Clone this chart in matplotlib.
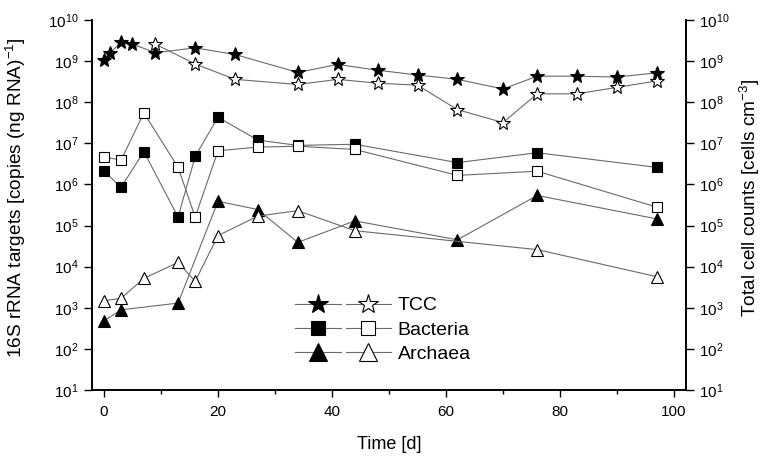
import matplotlib
matplotlib.use("Agg")
import matplotlib.pyplot as plt
from matplotlib.legend_handler import HandlerTuple
from matplotlib.ticker import LogLocator, LogFormatterMathtext, MultipleLocator, NullLocator

plt.rcParams['font.family'] = ['Liberation Sans', 'DejaVu Sans']
plt.rcParams['mathtext.fontset'] = 'custom'
plt.rcParams['mathtext.rm'] = 'Liberation Sans'
plt.rcParams['mathtext.default'] = 'regular'

# total cell counts (right axis), filled / open
tcc_t = [0, 1, 3, 5, 9, 16, 23, 34, 41, 48, 55, 62, 70, 76, 83, 90, 97]
tcc = [1.06e9, 1.55e9, 2.86e9, 2.6e9, 1.6e9, 2.1e9, 1.45e9, 5.3e8, 8.3e8,
       6.0e8, 4.6e8, 3.6e8, 2.1e8, 4.3e8, 4.3e8, 4.1e8, 5.2e8]
tcc_open_t = [9, 16, 23, 34, 41, 48, 55, 62, 70, 76, 83, 90, 97]
tcc_open = [2.6e9, 8.5e8, 3.6e8, 2.7e8, 3.6e8, 2.9e8, 2.6e8, 6.6e7, 3.2e7,
            1.6e8, 1.6e8, 2.3e8, 3.3e8]

# 16S rRNA targets (left axis)
bac_t = [0, 3, 7, 13, 16, 20, 27, 34, 44, 62, 76, 97]
bac = [2.1e6, 8.5e5, 6.3e6, 1.6e5, 4.8e6, 4.3e7, 1.2e7, 8.9e6, 9.5e6, 3.4e6, 5.9e6, 2.6e6]
bac_open_t = [0, 3, 7, 13, 16, 20, 27, 34, 44, 62, 76, 97]
bac_open = [4.7e6, 3.9e6, 5.5e7, 2.6e6, 1.6e5, 6.6e6, 8.1e6, 8.5e6, 7.1e6, 1.66e6, 2.1e6, 2.8e5]

arc_t = [0, 3, 13, 20, 27, 34, 44, 62, 76, 97]
arc = [480, 890, 1.3e3, 3.9e5, 2.45e5, 3.9e4, 1.3e5, 4.5e4, 5.4e5, 1.45e5]
arc_open_t = [0, 3, 7, 13, 16, 20, 27, 34, 44, 76, 97]
arc_open = [1.48e3, 1.7e3, 5.2e3, 1.27e4, 4.4e3, 5.7e4, 1.7e5, 2.3e5, 7.5e4, 2.6e4, 5.7e3]

line_c = '#6a6a6a'
ms = {'*': 10, 's': 7, '^': 8.5}


def series(ax, t, v, marker, filled):
	"""one line with black or white markers"""
	return ax.plot(t, v, color=line_c, lw=0.8, marker=marker, ms=ms[marker],
	               mfc='k' if filled else 'w', mec='k', mew=0.8, zorder=3)[0]


fig = plt.figure(figsize=(7.64, 4.57), dpi=100)
ax = fig.add_axes([92/764, 1-390/457, 594/764, 370/457])
ax2 = ax.twinx()

for a in (ax, ax2):
	a.set_yscale('log')
	a.set_ylim(10, 1e10)
	a.yaxis.set_major_locator(LogLocator(base=10, numticks=12))
	a.yaxis.set_minor_locator(NullLocator())
	a.yaxis.set_major_formatter(LogFormatterMathtext())
	a.spines['top'].set_visible(False)
	a.tick_params(axis='y', direction='out', length=6, width=1, labelsize=11)
	for s in a.spines.values():
		s.set_linewidth(1.2)

ax.set_xlim(-2.1, 102.1)
ax.xaxis.set_major_locator(MultipleLocator(20))
ax.xaxis.set_minor_locator(MultipleLocator(10))
ax.tick_params(axis='x', which='major', direction='out', length=5, width=1, labelsize=11, pad=6)
ax.tick_params(axis='x', which='minor', direction='out', length=3, width=1)

# rRNA targets on left axis, cell counts on right
h_bac = series(ax, bac_t, bac, 's', True)
h_bac_o = series(ax, bac_open_t, bac_open, 's', False)
h_arc = series(ax, arc_t, arc, '^', True)
h_arc_o = series(ax, arc_open_t, arc_open, '^', False)
h_tcc = series(ax2, tcc_t, tcc, '*', True)
h_tcc_o = series(ax2, tcc_open_t, tcc_open, '*', False)

ax.set_xlabel('Time [d]', fontsize=13)
ax.xaxis.set_label_coords(0.5, -0.125)
ax.set_ylabel('16S rRNA targets [copies (ng RNA)$^{-1}$]', fontsize=13.7)
ax.yaxis.set_label_coords(-0.108, 0.52)
ax2.set_ylabel('Total cell counts [cells cm$^{-3}$]', fontsize=13.7)
ax2.yaxis.set_label_coords(1.087, 0.52)

leg = ax2.legend([(h_tcc, h_tcc_o), (h_bac, h_bac_o), (h_arc, h_arc_o)],
                 ['TCC', 'Bacteria', 'Archaea'],
                 handler_map={tuple: HandlerTuple(ndivide=None, pad=0.25)},
                 handlelength=4.9, handletextpad=0.35, labelspacing=0.35,
                 markerscale=1.5, fontsize=14, frameon=False, borderpad=0,
                 loc='center', bbox_to_anchor=(0.49, 0.162))

fig.savefig('out.png', dpi=100)
